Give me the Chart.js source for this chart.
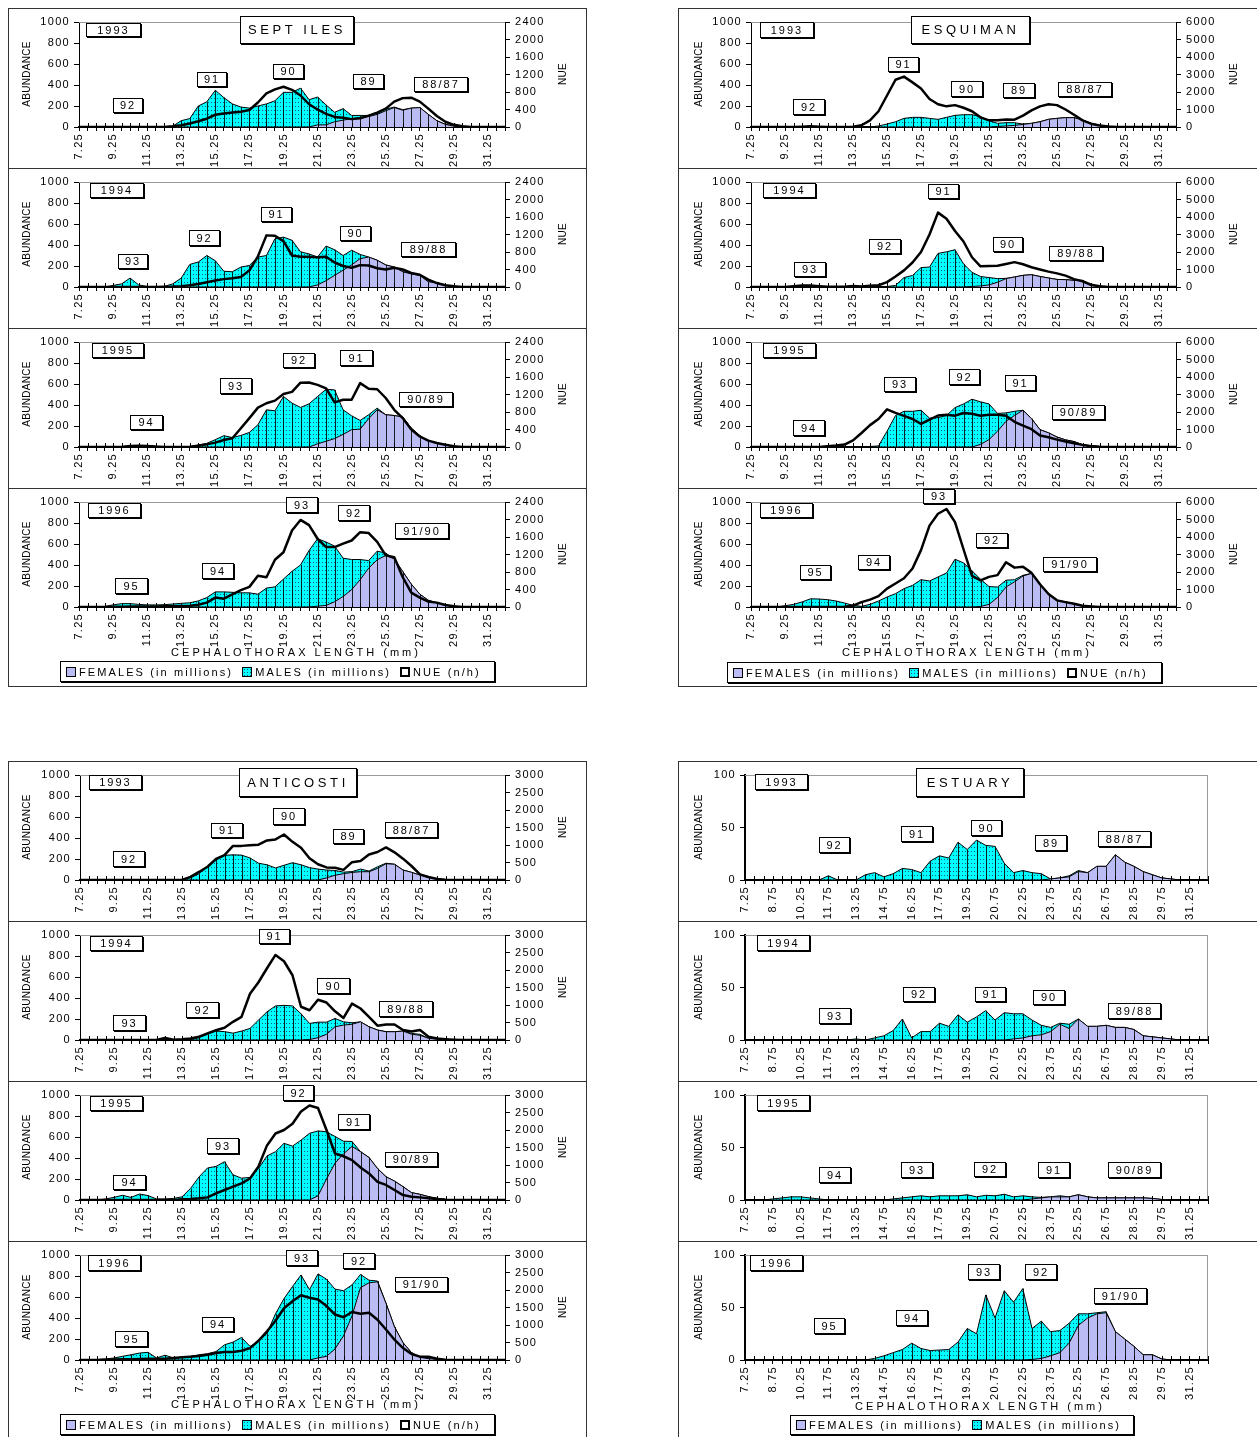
<!DOCTYPE html>
<html>
<head>
<meta charset="utf-8">
<title>Cephalothorax length frequencies by region, 1993-1996</title>
<script src="https://cdn.jsdelivr.net/npm/chart.js@4"></script>
<style>
    body {
        margin: 0;
        background: #fff;
        font-family: 'Liberation Sans', Arial, sans-serif;
        color: #000;
    }
    #page {
        position: relative;
        width: 1257px;
        height: 1437px;
        overflow: hidden;
        background: #fff;
    }
    .frame {
        position: absolute;
        box-sizing: border-box;
        border: 1px solid #333;
    }
    .sep {
        position: absolute;
        height: 1px;
        background: #333;
    }
    canvas {
        position: absolute;
    }
    .box {
        position: absolute;
        box-sizing: border-box;
        border: 1px solid #000;
        box-shadow: 1px 1px 0 #000;
        background: #fff;
        font-size: 11px;
        letter-spacing: 2px;
        text-align: center;
        z-index: 3;
        white-space: nowrap;
    }
    .title {
        font-size: 13px;
        letter-spacing: 3.6px;
    }
    .vtitle {
        position: absolute;
        font-size: 10px;
        letter-spacing: 0.3px;
        white-space: nowrap;
        transform: translate(-50%, -50%) rotate(-90deg);
        z-index: 3;
    }
    .xtitle {
        position: absolute;
        font-size: 11px;
        letter-spacing: 3px;
        white-space: nowrap;
        transform: translate(-50%, -50%);
    }
    .legend {
        position: absolute;
        box-sizing: border-box;
        border: 1px solid #000;
        box-shadow: 1px 1px 0 #000;
        background: #fff;
        font-size: 11px;
        letter-spacing: 2.1px;
        white-space: nowrap;
        display: flex;
        align-items: center;
        padding-left: 5px;
    }
    .sw {
        display: inline-block;
        box-sizing: border-box;
        width: 10px;
        height: 10px;
        border: 1px solid #000;
        margin-right: 3px;
    }
    .item {
        display: inline-flex;
        align-items: center;
        margin-right: 9px;
    }
</style>
</head>
<body>
<div id="page"></div>

<script>
// Length classes (mm)
const lengths = ['7.25','7.75','8.25','8.75','9.25','9.75','10.25','10.75','11.25','11.75',
    '12.25','12.75','13.25','13.75','14.25','14.75','15.25','15.75','16.25','16.75',
    '17.25','17.75','18.25','18.75','19.25','19.75','20.25','20.75','21.25','21.75',
    '22.25','22.75','23.25','23.75','24.25','24.75','25.25','25.75','26.25','26.75',
    '27.25','27.75','28.25','28.75','29.25','29.75','30.25','30.75','31.25','31.75','32.25'];

// ---- SEPT ILES ----
const sepF93 = [0,0,0,0,0,0,0,0,0,0, 0,0,0,0,0,0,0,0,0,0, 0,0,0,0,0,0,0,0,20,20,
    50,65,80,90,100,120,155,185,160,180, 185,120,60,25,8,0,0,0,0,0, 0];
const sepM93 = [0,0,0,0,0,0,0,0,0,0, 0,8,60,80,200,240,350,280,220,190, 180,200,220,250,330,330,370,260,265,190,
    90,110,30,20,10,20,15,5,5,0, 0,0,0,0,0,0,0,0,0,0, 0];
const sepN93 = [0,0,0,0,0,0,0,0,0,0, 0,15,40,80,130,190,280,310,330,350, 390,560,770,860,920,850,720,520,400,300,
    230,210,180,200,260,330,420,580,660,670, 580,420,250,120,50,15,0,0,0,0, 0];

const sepF94 = [0,0,0,0,0,0,0,0,0,0, 0,0,0,0,0,0,0,0,0,0, 0,0,0,0,0,0,0,0,20,60,
    110,160,210,270,285,255,210,190,145,125, 110,50,40,15,5,0,0,0,0,0, 0];
const sepM94 = [0,0,0,0,15,30,85,20,5,0, 5,30,85,215,238,300,250,150,145,190, 205,285,300,460,475,445,335,315,265,330,
    245,140,140,40,0,0,0,0,0,0, 0,0,0,0,0,0,0,0,0,0, 0];
const sepN94 = [0,0,0,0,0,0,0,0,0,0, 5,10,20,40,70,110,150,180,200,230, 380,700,1180,1170,1050,720,690,690,680,690,
    560,480,440,500,490,430,400,440,400,320, 280,170,90,40,15,0,0,0,0,0, 0];

const sepF95 = [0,0,0,0,0,0,0,0,0,0, 0,0,0,0,0,0,0,0,0,0, 0,0,0,0,0,0,0,0,30,55,
    80,120,165,170,270,355,307,300,285,180, 108,60,38,19,6,0,0,0,0,0, 0];
const sepM95 = [0,0,0,0,0,5,10,15,12,5, 0,0,0,0,20,35,70,108,90,110, 139,212,354,345,481,418,377,411,451,495,
    464,234,132,83,37,15,0,0,0,0, 0,0,0,0,0,0,0,0,0,0, 0];
const sepN95 = [0,0,0,0,0,0,25,30,25,10, 0,0,0,5,30,60,100,160,200,430, 660,900,1000,1060,1210,1260,1470,1475,1420,1340,
    1020,1080,1080,1460,1330,1320,1120,850,660,400, 240,145,90,50,15,0,0,0,0,0, 0];

const sepF96 = [0,0,0,0,0,0,0,0,0,0, 0,0,0,0,0,0,0,0,0,0, 0,0,0,0,0,0,0,0,8,15,
    50,100,165,260,370,450,490,458,337,218, 122,64,38,19,6,0,0,0,0,0, 0];
const sepM96 = [0,0,0,5,20,32,32,25,20,20, 22,28,35,40,58,90,144,144,140,135, 135,122,180,192,266,340,400,538,642,604,
    530,365,287,192,72,82,23,0,0,0, 0,0,0,0,0,0,0,0,0,0, 0];
const sepN96 = [0,0,0,0,5,8,10,10,10,10, 15,20,25,30,50,100,215,190,290,385, 460,715,680,1080,1250,1750,1990,1870,1560,1370,
    1370,1450,1520,1710,1690,1490,1180,1140,680,330, 215,125,100,45,15,0,0,0,0,0, 0];

// ---- ESQUIMAN ----
const esqF93 = [0,0,0,0,0,0,0,0,0,0, 0,0,0,0,0,0,0,0,0,0, 0,0,0,0,0,0,0,0,0,5,
    10,15,25,35,50,73,82,89,89,67, 35,16,6,0,0,0,0,0,0,0, 0];
const esqM93 = [0,0,0,0,0,0,5,5,0,0, 0,0,0,0,0,10,28,50,82,92, 92,82,73,92,111,117,117,98,60,30,
    31,26,3,0,0,0,0,0,0,0, 0,0,0,0,0,0,0,0,0,0, 0];
const esqN93 = [0,0,0,0,0,0,20,40,20,0, 0,0,20,100,380,900,1800,2700,2880,2550, 2200,1600,1300,1180,1250,1100,900,550,380,390,
    430,420,650,950,1180,1300,1250,1000,700,380, 190,90,25,0,0,0,0,0,0,0, 0];

const esqF94 = [0,0,0,0,0,0,0,0,0,0, 0,0,0,0,0,0,0,0,0,0, 0,0,0,0,0,0,5,10,20,45,
    80,95,111,117,100,86,72,70,63,63, 15,5,0,0,0,0,0,0,0,0, 0];
const esqM94 = [0,0,0,0,0,3,5,5,3,0, 0,0,0,0,3,5,5,15,90,110, 185,190,320,335,355,220,135,90,70,35,
    2,0,0,0,0,0,0,0,0,0, 0,0,0,0,0,0,0,0,0,0, 0];
const esqN94 = [0,0,0,0,0,40,80,90,50,20, 10,20,60,30,70,100,280,600,950,1400, 2000,3000,4250,3900,3200,2600,1700,1180,1200,1210,
    1310,1420,1300,1130,1000,880,780,650,450,330, 130,40,0,0,0,0,0,0,0,0, 0];

const esqF95 = [0,0,0,0,0,0,0,0,0,0, 0,0,0,0,0,0,0,0,0,0, 0,0,0,0,0,0,0,25,70,150,
    245,300,350,270,165,135,95,68,52,22, 12,5,0,0,0,0,0,0,0,0, 0];
const esqM95 = [0,0,0,0,0,0,0,0,0,0, 0,0,0,0,5,10,150,300,340,340, 350,275,280,300,375,410,455,405,340,170,
    80,40,0,0,0,0,0,0,0,0, 0,0,0,0,0,0,0,0,0,0, 0];
const esqN95 = [0,0,0,0,0,0,0,0,0,40, 80,140,380,800,1250,1600,2150,1950,1780,1600, 1320,1560,1800,1840,1790,1940,1900,1790,1840,1840,
    1780,1440,1220,1020,660,560,420,310,220,120, 40,10,0,0,0,0,0,0,0,0, 0];

const esqF96 = [0,0,0,0,0,0,0,0,0,0, 0,0,0,0,0,0,0,0,0,0, 0,0,0,0,0,0,0,5,25,90,
    190,240,295,320,220,125,63,48,32,13, 5,0,0,0,0,0,0,0,0,0, 0];
const esqM96 = [0,0,0,0,12,25,48,78,76,70, 57,38,16,6,25,57,95,127,175,206, 260,248,286,324,455,420,345,260,170,100,
    65,20,7,0,0,0,0,0,0,0, 0,0,0,0,0,0,0,0,0,0, 0];
const esqN96 = [0,0,0,0,0,0,0,0,0,0, 0,10,80,280,420,620,1050,1340,1640,2200, 3250,4650,5330,5600,4850,3300,1780,1520,1720,1820,
    2560,2250,2300,1950,1300,740,380,280,190,75, 35,0,0,0,0,0,0,0,0,0, 0];

// ---- ANTICOSTI ----
const antF93 = [0,0,0,0,0,0,0,0,0,0, 0,0,0,0,0,0,0,0,0,0, 0,0,0,0,0,0,0,0,0,20,
    45,60,72,79,79,110,155,150,95,73, 47,22,9,3,0,0,0,0,0,0, 0];
const antM93 = [0,0,0,0,0,0,0,0,0,0, 0,0,5,22,60,130,200,235,240,237, 210,160,145,115,140,165,145,118,104,75,
    46,15,8,25,6,16,5,0,0,0, 0,0,0,0,0,0,0,0,0,0, 0];
const antN93 = [0,0,0,0,0,0,0,0,0,0, 0,0,0,90,230,380,600,710,975,975, 990,1010,1130,1160,1300,1090,920,620,450,360,
    350,290,510,540,730,800,930,790,610,400, 160,85,30,5,0,0,0,0,0,0, 0];

const antF94 = [0,0,0,0,0,0,0,0,0,0, 0,0,0,0,0,0,0,0,0,0, 0,0,0,0,0,0,0,5,22,54,
    126,142,150,173,126,95,79,79,85,55, 45,16,8,0,0,0,0,0,0,0, 0];
const antM94 = [0,0,0,0,0,0,0,0,0,0, 0,0,0,5,22,55,85,80,65,85, 110,190,268,325,330,325,250,153,148,116,
    79,31,14,0,0,0,0,0,0,8, 9,0,0,0,0,0,0,0,0,0, 0];
const antN94 = [0,0,0,0,0,0,0,0,0,0, 60,10,20,45,95,190,280,350,520,660, 1320,1650,2050,2430,2250,1850,950,850,1150,1070,
    820,630,1040,900,660,410,445,445,285,240, 285,95,45,25,10,0,0,0,0,0, 0];

const antF95 = [0,0,0,0,0,0,0,0,0,0, 0,0,0,0,0,0,0,0,0,0, 0,0,0,0,0,0,0,0,40,200,
    350,440,510,460,405,300,222,180,127,70, 54,32,16,6,0,0,0,0,0,0, 0];
const antM95 = [0,0,0,10,25,45,25,57,42,10, 10,15,30,110,220,305,320,365,240,208, 215,300,420,460,540,513,570,635,618,450,
    255,120,47,0,0,0,0,0,0,0, 0,0,0,0,0,0,0,0,0,0, 0];
const antN95 = [0,0,0,0,0,0,0,0,0,0, 0,0,20,28,47,75,190,285,380,475, 615,960,1560,1900,2000,2180,2530,2700,2630,2000,
    1330,1250,1140,930,760,520,430,285,140,95, 75,47,28,9,0,0,0,0,0,0, 0];

const antF96 = [0,0,0,0,0,0,0,0,0,0, 0,0,0,0,0,0,0,0,0,0, 0,0,0,0,0,0,0,0,20,35,
    105,230,420,690,735,745,540,315,165,70, 25,13,6,0,0,0,0,0,0,0, 0];
const antM96 = [0,0,5,10,19,35,50,66,73,20, 45,20,25,35,50,60,80,145,170,215, 130,175,255,440,585,700,810,670,800,735,
    570,430,295,125,25,7,0,0,0,0, 0,0,0,0,0,0,0,0,0,0, 0];
const antN96 = [0,0,0,5,15,20,25,30,35,35, 38,57,76,95,115,150,200,230,230,265, 340,550,820,1120,1480,1680,1850,1780,1730,1540,
    1300,1220,1370,1320,1350,1150,870,580,340,170, 95,95,38,10,0,0,0,0,0,0, 0];

// ---- ESTUARY (no NUE) ----
const estF93 = [0,0,0,0,0,0,0,0,0,0, 0,0,0,0,0,0,0,0,0,0, 0,0,0,0,0,0,0,0,0,0,
    0,0,0,1,2,3,8,7,13,13, 24,17,13,8,5,2,1,0,0,0, 0];
const estM93 = [0,0,0,0,0,0,0,0,0,4, 0,0,0,5,7,3,6,11,10,7, 18,23,21,36,29,38,33,32,16,7,
    9,7,6,0,0,1,1,0,0,0, 0,0,0,0,0,0,0,0,0,0, 0];

const estF94 = [0,0,0,0,0,0,0,0,0,0, 0,0,0,0,0,0,0,0,0,0, 0,0,0,0,0,0,0,0,0,1,
    2,4,5,8,15,11,20,13,13,14, 12,12,10,4,3,2,1,0,0,0, 0];
const estM94 = [0,0,0,0,0,0,0,0,0,0, 0,0,1,0,2,4,9,20,2,8, 8,16,13,24,17,22,28,19,26,24,
    23,15,9,4,1,4,0,0,0,0, 0,0,0,0,0,0,0,0,0,0, 0];

const estF95 = [0,0,0,0,0,0,0,0,0,0, 0,0,0,0,0,0,0,0,0,0, 0,0,0,0,0,0,0,0,0,0,
    0,1,2,3,3,3,5,3,2,2, 2,2,2,2,1.5,0.5,0,0,0,0, 0];
const estM95 = [0,0,0,1,2,3,3,2,1,0, 0,0,0,0,0,0,1,2,3,4, 3,4,4,4,5,3,4.5,4,5.5,3,
    4,2,0.5,0,1,0,0,0,0,0, 0,0,0,0,0,0,0,0,0,0, 0];

const estF96 = [0,0,0,0,0,0,0,0,0,0, 0,0,0,0,0,0,0,0,0,0, 0,0,0,0,0,0,0,0,0,0,
    0,0.5,1.5,4,7,16,33,40,44,45, 27,20,13,5,5,1,0,0,0,0, 0];
const estM96 = [0,0,0,0,0,0,0,0,0,0, 0,0,0,0,1.5,4,7,10,16,11, 9,9.5,10,17,30,25,62,40,66,55,
    68,29.5,35.5,23,21,19,11,4,1,1, 0,0,0,0,0,0,0,0,0,0, 0];

// Cohort / year label boxes: [text, x1, y1, x2, y2] in page pixels
const sepBoxes = [
    ['1993',86,23,141,37], ['92',113,98,143,113], ['91',197,72,227,87], ['90',273,64,304,79], ['89',353,74,384,89], ['88/87',414,77,468,92],
    ['1994',90,183,144,198], ['93',118,254,148,269], ['92',189,230,220,246], ['91',261,207,292,222], ['90',340,226,371,241], ['89/88',401,242,456,257],
    ['1995',92,343,144,358], ['94',130,415,163,430], ['93',220,378,252,394], ['92',283,353,315,368], ['91',340,350,373,366], ['90/89',399,392,453,407],
    ['1996',88,503,141,518], ['95',115,578,148,594], ['94',202,563,234,579], ['93',286,497,318,513], ['92',338,505,370,521], ['91/90',395,523,449,539]
];
const esqBoxes = [
    ['1993',760,22,814,38], ['92',793,99,825,115], ['91',888,57,919,72], ['90',951,81,983,97], ['89',1003,83,1035,98], ['88/87',1058,82,1112,97],
    ['1994',763,183,816,198], ['93',794,262,826,277], ['92',869,239,901,254], ['91',928,184,959,199], ['90',993,237,1023,252], ['89/88',1049,246,1103,261],
    ['1995',763,343,816,358], ['94',793,420,825,436], ['93',884,377,916,392], ['92',949,369,980,385], ['91',1005,375,1036,391], ['90/89',1052,405,1105,420],
    ['1996',760,503,813,518], ['95',800,565,831,580], ['94',858,555,890,570], ['93',923,489,955,504], ['92',976,533,1008,548], ['91/90',1043,557,1097,572]
];
const antBoxes = [
    ['1993',89,775,142,790], ['92',113,851,145,867], ['91',211,823,243,838], ['90',273,808,305,825], ['89',333,829,364,844], ['88/87',385,822,438,838],
    ['1994',90,936,143,951], ['93',113,1015,146,1031], ['92',186,1002,219,1018], ['91',259,929,290,944], ['90',317,978,350,994], ['89/88',379,1001,433,1017],
    ['1995',90,1096,143,1111], ['94',113,1175,146,1190], ['93',207,1138,239,1154], ['92',283,1085,314,1101], ['91',338,1114,370,1130], ['90/89',385,1152,438,1167],
    ['1996',88,1255,141,1271], ['95',115,1331,148,1347], ['94',202,1317,234,1332], ['93',286,1250,318,1266], ['92',343,1253,375,1269], ['91/90',395,1277,448,1292]
];
const estBoxes = [
    ['1993',755,774,808,790], ['92',819,837,850,853], ['91',901,826,933,842], ['90',971,820,1002,836], ['89',1035,835,1067,851], ['88/87',1098,831,1151,847],
    ['1994',757,935,810,951], ['93',819,1008,851,1024], ['92',903,987,935,1002], ['91',975,987,1006,1002], ['90',1033,990,1065,1005], ['89/88',1108,1003,1161,1019],
    ['1995',757,1095,810,1111], ['94',819,1167,851,1183], ['93',901,1162,933,1178], ['92',974,1162,1006,1177], ['91',1038,1162,1070,1178], ['90/89',1108,1162,1161,1178],
    ['1996',750,1255,803,1271], ['95',814,1318,845,1334], ['94',896,1310,928,1326], ['93',968,1264,1000,1280], ['92',1025,1264,1057,1280], ['91/90',1094,1288,1147,1304]
];

const FEMALE_COLOR = '#bcbcf4';
const MALE_COLOR = '#00ffff';

Chart.defaults.font.family = "'Liberation Sans', Arial, sans-serif";
Chart.defaults.font.size = 11;
Chart.defaults.color = '#000';

// cyan fill with small dark dots, like the printed pattern
function makeDotPattern() {
    const c = document.createElement('canvas');
    c.width = 3;
    c.height = 4;
    const g = c.getContext('2d');
    g.fillStyle = MALE_COLOR;
    g.fillRect(0, 0, 3, 4);
    g.fillStyle = '#1b5f78';
    g.fillRect(1, 1, 1, 1);
    return g.createPattern(c, 'repeat');
}
const malePattern = makeDotPattern();

// gray plot frame, drop lines and crossing x ticks
const panelDeco = {
    id: 'panelDeco',
    beforeDraw(chart) {
        chart.ctx.letterSpacing = '1.3px';
    },
    beforeDatasetsDraw(chart, args, opts) {
        const { ctx, chartArea: a } = chart;
        ctx.save();
        ctx.strokeStyle = '#9a9a9a';
        ctx.lineWidth = 1;
        ctx.beginPath();
        ctx.moveTo(a.left, a.top + 0.5);
        ctx.lineTo(a.right, a.top + 0.5);
        if (opts.frameRight) {
            ctx.moveTo(a.right - 0.5, a.top);
            ctx.lineTo(a.right - 0.5, a.bottom);
        }
        ctx.stroke();
        ctx.restore();
    },
    afterDatasetDraw(chart, args) {
        if (chart.data.datasets[args.index].label !== 'FEMALES') return;
        const mi = chart.data.datasets.findIndex(d => d.label === 'MALES');
        const top = chart.getDatasetMeta(mi);
        const y0 = chart.scales.y.getPixelForValue(0);
        const ctx = chart.ctx;
        ctx.save();
        ctx.strokeStyle = 'rgba(0,0,0,0.85)';
        ctx.lineWidth = 1;
        ctx.beginPath();
        top.data.forEach(pt => {
            if (pt.y < y0 - 1.5) {
                const x = Math.round(pt.x) + 0.5;
                ctx.moveTo(x, y0);
                ctx.lineTo(x, pt.y);
            }
        });
        ctx.stroke();
        ctx.restore();
    },
    afterDraw(chart) {
        const xs = chart.scales.x;
        const b = chart.chartArea.bottom;
        const ctx = chart.ctx;
        ctx.save();
        ctx.strokeStyle = '#000';
        ctx.lineWidth = 1;
        ctx.beginPath();
        xs.ticks.forEach((t, i) => {
            const x = Math.round(xs.getPixelForTick(i)) + 0.5;
            ctx.moveTo(x, b - 4);
            ctx.lineTo(x, b);
        });
        ctx.stroke();
        ctx.restore();
    }
};

const blocks = [
    {
        title: 'SEPT ILES', left: 8, top: 8, frameW: 579, frameH: 679,
        canvasX: 9, canvasW: 576, yw: 70, y2w: 80, padRight: 0,
        yMax: 1000, yStep: 200, nueMax: 2400, nueStep: 400, every: 4,
        years: [[sepF93, sepM93, sepN93], [sepF94, sepM94, sepN94], [sepF95, sepM95, sepN95], [sepF96, sepM96, sepN96]],
        boxes: sepBoxes, titleBox: [240, 16, 354, 44], abundX: 26, nueX: 562,
        xTitle: [296, 652], legend: [60, 661, 495, 682]
    },
    {
        title: 'ESQUIMAN', left: 678, top: 8, frameW: 600, frameH: 679,
        canvasX: 679, canvasW: 578, yw: 72, y2w: 81, padRight: 0,
        yMax: 1000, yStep: 200, nueMax: 6000, nueStep: 1000, every: 4,
        years: [[esqF93, esqM93, esqN93], [esqF94, esqM94, esqN94], [esqF95, esqM95, esqN95], [esqF96, esqM96, esqN96]],
        boxes: esqBoxes, titleBox: [911, 16, 1030, 44], abundX: 698, nueX: 1233,
        xTitle: [967, 652], legend: [727, 662, 1162, 683]
    },
    {
        title: 'ANTICOSTI', left: 8, top: 761, frameW: 579, frameH: 700,
        canvasX: 9, canvasW: 576, yw: 71, y2w: 80, padRight: 0,
        yMax: 1000, yStep: 200, nueMax: 3000, nueStep: 500, every: 4,
        years: [[antF93, antM93, antN93], [antF94, antM94, antN94], [antF95, antM95, antN95], [antF96, antM96, antN96]],
        boxes: antBoxes, titleBox: [239, 768, 357, 797], abundX: 26, nueX: 562,
        xTitle: [296, 1404], legend: [60, 1414, 495, 1435]
    },
    {
        title: 'ESTUARY', left: 678, top: 761, frameW: 600, frameH: 700,
        canvasX: 679, canvasW: 578, yw: 66, y2w: 0, padRight: 49,
        yMax: 100, yStep: 50, nueMax: 0, nueStep: 0, every: 3,
        years: [[estF93, estM93, null], [estF94, estM94, null], [estF95, estM95, null], [estF96, estM96, null]],
        boxes: estBoxes, titleBox: [916, 768, 1024, 797], abundX: 698, nueX: 0,
        xTitle: [980, 1406], legend: [790, 1415, 1134, 1435]
    }
];

const page = document.getElementById('page');

function addDiv(cls, css, text) {
    const d = document.createElement('div');
    d.className = cls;
    d.style.cssText = css;
    if (text !== undefined) d.textContent = text;
    page.appendChild(d);
    return d;
}

function makePanel(block, k) {
    const [females, males, nue] = block.years[k];
    const cTop = block.top + 1 + 160 * k;
    const canvas = document.createElement('canvas');
    canvas.width = block.canvasW;
    canvas.height = 159;
    canvas.style.cssText = `left:${block.canvasX}px;top:${cTop}px;width:${block.canvasW}px;height:159px`;
    page.appendChild(canvas);

    const datasets = [];
    if (nue) {
        datasets.push({
            label: 'NUE', data: nue, yAxisID: 'y2',
            borderColor: '#000', borderWidth: 2.5, fill: false,
            pointRadius: 0, tension: 0, borderJoinStyle: 'round'
        });
    }
    datasets.push({
        label: 'FEMALES', data: females, yAxisID: 'y', stack: 'ab',
        fill: 'origin', backgroundColor: FEMALE_COLOR,
        borderColor: '#000', borderWidth: 1, pointRadius: 0, tension: 0
    });
    datasets.push({
        label: 'MALES', data: males, yAxisID: 'y', stack: 'ab',
        fill: '-1', backgroundColor: malePattern,
        borderColor: '#000', borderWidth: 1, pointRadius: 0, tension: 0
    });

    const tickGrid = { drawOnChartArea: false, drawTicks: true, tickLength: 5, color: '#000' };
    const scales = {
        x: {
            type: 'category',
            offset: false,
            grid: { drawOnChartArea: false, drawTicks: true, tickLength: 4, color: '#000' },
            border: { color: '#000', width: 2 },
            ticks: {
                autoSkip: false, minRotation: 90, maxRotation: 90, padding: 2,
                font: { size: 11 },
                callback: (v, i) => (i % block.every === 0 ? lengths[i] : '')
            },
            afterFit: s => { s.height = 41; }
        },
        y: {
            stacked: true, min: 0, max: block.yMax,
            grid: tickGrid,
            border: { color: '#000', width: nue ? 1 : 2 },
            ticks: { stepSize: block.yStep, padding: 4, callback: v => String(v) },
            afterFit: s => { s.width = block.yw; }
        }
    };
    if (nue) {
        scales.y2 = {
            position: 'right', min: 0, max: block.nueMax,
            grid: tickGrid,
            border: { color: '#000', width: 1 },
            ticks: { stepSize: block.nueStep, padding: 5, callback: v => String(v) },
            afterFit: s => { s.width = block.y2w; }
        };
    }

    new Chart(canvas, {
        type: 'line',
        data: { labels: lengths, datasets },
        options: {
            responsive: false,
            animation: false,
            events: [],
            layout: { padding: { top: 13, left: 0, right: block.padRight, bottom: 0 } },
            plugins: {
                legend: { display: false },
                tooltip: { enabled: false },
                panelDeco: { frameRight: !nue }
            },
            scales
        },
        plugins: [panelDeco]
    });

    // axis titles
    const midY = block.top + 14 + 160 * k + 52;
    addDiv('vtitle', `left:${block.abundX}px;top:${midY}px`, 'ABUNDANCE');
    if (nue) addDiv('vtitle', `left:${block.nueX}px;top:${midY}px`, 'NUE');
}

function drawBlock(block) {
    addDiv('frame', `left:${block.left}px;top:${block.top}px;width:${block.frameW}px;height:${block.frameH}px`);
    for (let k = 1; k < 4; k++) {
        addDiv('sep', `left:${block.left}px;top:${block.top + 160 * k}px;width:${block.frameW}px`);
    }
    for (let k = 0; k < 4; k++) makePanel(block, k);

    const [tx1, ty1, tx2, ty2] = block.titleBox;
    addDiv('box title', `left:${tx1}px;top:${ty1}px;width:${tx2 - tx1}px;height:${ty2 - ty1}px;line-height:${ty2 - ty1 - 2}px`, block.title);

    block.boxes.forEach(([text, x1, y1, x2, y2]) => {
        addDiv('box', `left:${x1}px;top:${y1}px;width:${x2 - x1}px;height:${y2 - y1}px;line-height:${y2 - y1 - 2}px`, text);
    });

    addDiv('xtitle', `left:${block.xTitle[0]}px;top:${block.xTitle[1]}px`, 'CEPHALOTHORAX LENGTH (mm)');

    const [lx1, ly1, lx2, ly2] = block.legend;
    const lg = addDiv('legend', `left:${lx1}px;top:${ly1}px;width:${lx2 - lx1}px;height:${ly2 - ly1}px`);
    const items = [
        ['FEMALES (in millions)', `background:${FEMALE_COLOR}`],
        ['MALES (in millions)', `background-color:${MALE_COLOR};background-image:radial-gradient(#1b5f78 0.7px, transparent 0.9px);background-size:3px 3px`]
    ];
    if (block.nueMax) items.push(['NUE (n/h)', 'background:#fff;border:2px solid #000']);
    items.forEach(([text, sw]) => {
        const it = document.createElement('span');
        it.className = 'item';
        const s = document.createElement('span');
        s.className = 'sw';
        s.style.cssText = sw;
        it.appendChild(s);
        it.appendChild(document.createTextNode(text));
        lg.appendChild(it);
    });
}

blocks.forEach(drawBlock);
</script>
</body>
</html>
